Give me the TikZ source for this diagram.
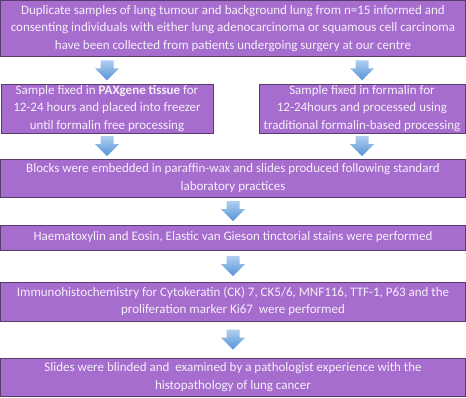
\documentclass[tikz,border=0pt]{standalone}
\usepackage{fontspec}
\setmainfont{Carlito}
\usepackage{tikz}
\usetikzlibrary{calc}

\definecolor{boxfill}{RGB}{166,108,206}
\definecolor{boxline}{RGB}{88,60,108}
\definecolor{boxtext}{RGB}{246,240,250}
\definecolor{arrtop}{RGB}{176,206,240}
\definecolor{arrbot}{RGB}{86,148,214}

\tikzset{
    stepbox/.style={draw=boxline, line width=1pt, fill=boxfill, text=boxtext,
        align=center, inner sep=0pt},
    blockarrow/.pic={
        \shade[top color=arrtop, bottom color=arrbot]
            (-6.5,-10) -- (6.5,-10) -- (6.5,-2) -- (12,-2) -- (0,10)
            -- (-12,-2) -- (-6.5,-2) -- cycle;
    }
}

\begin{document}
\begin{tikzpicture}[x=1pt, y=-1pt, font=\fontsize{13}{17.5}\selectfont]

    \useasboundingbox (0,0) rectangle (466,397);

    \node[stepbox, minimum width=465pt, minimum height=56pt] (top) at (233,28.5)
        {Duplicate samples of lung tumour and background lung from n=15 informed and\\
         consenting individuals with either lung adenocarcinoma or squamous cell carcinoma\\
         have been collected from patients undergoing surgery at our centre};

    \node[stepbox, minimum width=212pt, minimum height=49pt] (pax) at (107,108.5)
        {Sample fixed in \textbf{PAXgene tissue} for\\
         12-24 hours and placed into freezer\\
         until formalin free processing};

    \node[stepbox, minimum width=206pt, minimum height=49pt] (formalin) at (362,108.5)
        {Sample fixed in formalin for\\
         12-24hours and processed using\\
         traditional formalin-based processing};

    \node[stepbox, minimum width=465pt, minimum height=38pt] (blocks) at (233,178)
        {Blocks were embedded in paraffin-wax and slides produced following standard\\
         laboratory practices};

    \node[stepbox, minimum width=465pt, minimum height=25pt] (stains) at (233,237.5)
        {Haematoxylin and Eosin, Elastic van Gieson tinctorial stains were performed};

    \node[stepbox, minimum width=465pt, minimum height=39pt] (ihc) at (233,301.5)
        {Immunohistochemistry for Cytokeratin (CK) 7, CK5/6, MNF116, TTF-1, P63 and the\\
         proliferation marker Ki67~ were performed};

    \node[stepbox, minimum width=465pt, minimum height=38pt] (slides) at (233,377)
        {Slides were blinded and~ examined by a pathologist experience with the\\
         histopathology of lung cancer};

    % block arrows between the steps
    \coordinate (a1) at ($(pax.north)!0.5!(pax.north |- top.south)$);
    \coordinate (a2) at ($(formalin.north)!0.5!(formalin.north |- top.south)$);
    \coordinate (a3) at ($(pax.south)!0.5!(pax.south |- blocks.north)$);
    \coordinate (a4) at ($(formalin.south)!0.5!(formalin.south |- blocks.north)$);
    \coordinate (a5) at ($(blocks.south)!0.5!(stains.north)$);
    \coordinate (a6) at ($(stains.south)!0.5!(ihc.north)$);
    \coordinate (a7) at ($(ihc.south)!0.5!(slides.north)$);

    \foreach \a in {a1,a2,a3,a4,a5,a6,a7}
        \pic at (\a) {blockarrow};

\end{tikzpicture}
\end{document}
